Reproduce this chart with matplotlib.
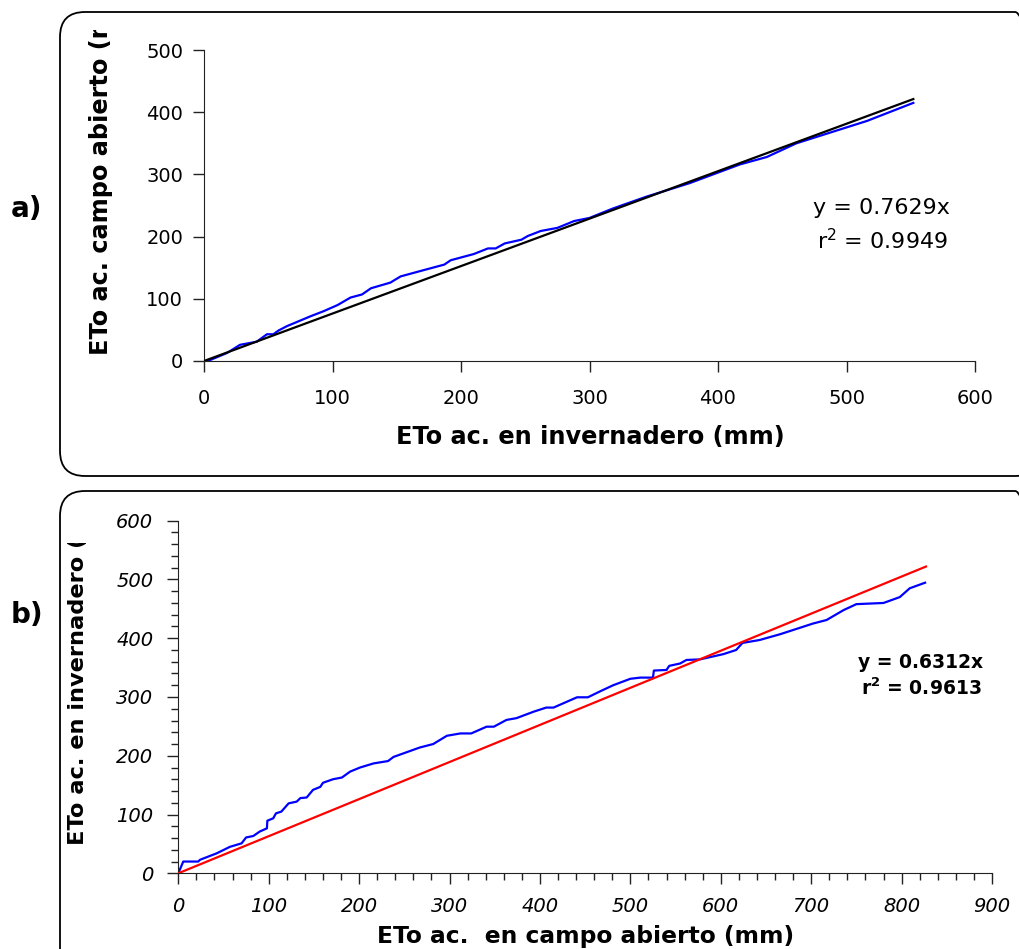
import matplotlib
matplotlib.use('Agg')
import matplotlib.pyplot as plt
import numpy as np
from matplotlib.patches import FancyBboxPatch
from matplotlib.ticker import MultipleLocator
from matplotlib.transforms import Bbox, IdentityTransform

W, H = 1019, 949

# panel a: ETo acumulada, invernadero (x) vs campo abierto (y)
inv_a = [3, 18, 28, 41, 49, 54, 58, 64.5, 83, 93, 104, 114, 123, 130, 145, 153, 169,
         187, 192, 210, 221, 227, 234, 247, 252, 262, 275, 288, 300, 318, 344, 378,
         417, 438, 461, 490, 516, 552]
campo_a = [0, 13, 26, 31, 43, 43, 49, 56, 72, 80, 90, 102, 107, 117, 126, 136, 145,
           155, 162, 172, 181, 181, 189, 195, 201, 209, 214, 225, 230, 245, 264, 286,
           316, 328, 350, 369, 386, 415]
slope_a = 0.7629
r2_a = 0.9949
fit_x_a = [0, 552]

# panel b: ETo acumulada, campo abierto (x) vs invernadero (y)
campo_b = [0, 5.5, 22, 24, 42.5, 57, 70, 75, 83, 90, 98, 98.5, 105, 108, 114, 122, 131,
           135, 142, 149, 157, 160, 171, 181, 190, 201, 216, 232, 238, 267, 282, 297,
           312, 324, 341, 349, 363, 374, 393, 407, 415, 441, 453, 468, 481, 500, 511,
           525, 526, 540, 543, 555, 562, 577, 603, 617, 624, 643, 666, 702, 717, 736,
           750, 780, 798, 809, 826]
inv_b = [0, 20, 20, 23, 34, 45, 51, 61, 63.5, 71, 76.5, 89.5, 93.6, 102, 105, 119, 122,
         128, 129, 142, 147, 154, 160, 163, 173, 180, 187, 191, 198, 214, 220, 234,
         238, 238, 249.5, 249.5, 261, 264, 275, 282, 282, 299.5, 299.5, 310.7, 320,
         331, 333, 333, 345, 346, 353, 357, 363, 364, 373, 380, 392, 397, 407, 425,
         431, 448, 458, 460, 470, 485, 494.5]
slope_b = 0.6312
r2_b = 0.9613
fit_x_b = [0, 827]

plt.rcParams['font.family'] = ['DejaVu Sans']

fig = plt.figure(figsize=(W / 100, H / 100), dpi=100)


def fx(px):
    return px / W


def fy(py):
    return 1 - py / H


# rounded frames (pixel coords, origin bottom-left)
for (x0, y0, x1, y1) in [(60, 12, 1040, 476), (60, 491, 1040, 980)]:
    box = FancyBboxPatch((x0, H - y1), x1 - x0, y1 - y0,
                         boxstyle='round,pad=0,rounding_size=25',
                         transform=IdentityTransform(), fill=False,
                         edgecolor='black', linewidth=1.3)
    fig.patches.append(box)

# ---- panel a
ax1 = fig.add_axes([fx(204), fy(361), fx(975) - fx(204), fy(50) - fy(361)])
ax1.plot(inv_a, campo_a, color='#0000ff', lw=1.6, zorder=2)
ax1.plot(fit_x_a, [slope_a * v for v in fit_x_a], color='black', lw=1.6, zorder=3)
ax1.set_xlim(0, 600)
ax1.set_ylim(0, 500)
ax1.xaxis.set_major_locator(MultipleLocator(100))
ax1.yaxis.set_major_locator(MultipleLocator(100))
ax1.tick_params(direction='out', length=8, width=1, labelsize=14, color='#222222')
ax1.tick_params(axis='x', pad=12)
ax1.tick_params(axis='y', pad=7)
for s in ['top', 'right']:
    ax1.spines[s].set_visible(False)
for s in ['left', 'bottom']:
    ax1.spines[s].set_color('#222222')

fig.text(fx(881), fy(214), 'y = %.4fx' % slope_a, fontsize=16, ha='center', va='baseline')
fig.text(fx(882), fy(249), r'r$^{2}$ = %.4f' % r2_a, fontsize=16, ha='center', va='baseline')

fig.text(fx(590), fy(444), 'ETo ac. en invernadero (mm)', fontsize=17.3,
         fontweight='bold', ha='center', va='baseline')
yl1 = fig.text(fx(101), fy(355), 'ETo ac. campo abierto (mm)', fontsize=17.3,
               fontweight='bold', rotation=90, rotation_mode='anchor',
               ha='left', va='center')
yl1.set_clip_box(Bbox.from_extents(0, 0, W, H - 30))
fig.text(fx(27), fy(209), 'a)', fontsize=20, fontweight='bold', ha='center', va='center')

# ---- panel b
ax2 = fig.add_axes([fx(178.3), fy(873.3), fx(992) - fx(178.3), fy(520.7) - fy(873.3)])
ax2.plot(campo_b, inv_b, color='#0000ff', lw=1.6, zorder=2)
ax2.plot(fit_x_b, [slope_b * v for v in fit_x_b], color='#ff0000', lw=1.6, zorder=3)
ax2.set_xlim(0, 900)
ax2.set_ylim(0, 600)
ax2.xaxis.set_major_locator(MultipleLocator(100))
ax2.xaxis.set_minor_locator(MultipleLocator(20))
ax2.yaxis.set_major_locator(MultipleLocator(100))
ax2.yaxis.set_minor_locator(MultipleLocator(20))
ax2.tick_params(which='major', direction='out', length=8, width=1, labelsize=14,
                color='#222222')
ax2.tick_params(which='minor', direction='out', length=5, width=1, color='#222222')
ax2.tick_params(axis='x', which='major', pad=9)
ax2.tick_params(axis='y', which='major', pad=10)
for lab in ax2.get_xticklabels() + ax2.get_yticklabels():
    lab.set_fontstyle('italic')
for s in ['top', 'right']:
    ax2.spines[s].set_visible(False)
for s in ['left', 'bottom']:
    ax2.spines[s].set_color('#222222')

fig.text(fx(921), fy(668), 'y = %.4fx' % slope_b, fontsize=13.5, fontweight='bold',
         ha='center', va='baseline')
fig.text(fx(921), fy(695), r'r$^{\mathbf{2}}$ = %.4f' % r2_b, fontsize=13.5, fontweight='bold',
         ha='center', va='baseline')

fig.text(fx(586), fy(943), 'ETo ac.  en campo abierto (mm)', fontsize=16.8,
         fontweight='bold', ha='center', va='baseline')
yl2 = fig.text(fx(78), fy(845), 'ETo ac. en invernadero (mm)', fontsize=16.2,
               fontweight='bold', rotation=90, rotation_mode='anchor',
               ha='left', va='center')
yl2.set_clip_box(Bbox.from_extents(0, 0, W, H - 543))
fig.text(fx(27), fy(615), 'b)', fontsize=20, fontweight='bold', ha='center', va='center')

fig.savefig('out.png', dpi=100)
